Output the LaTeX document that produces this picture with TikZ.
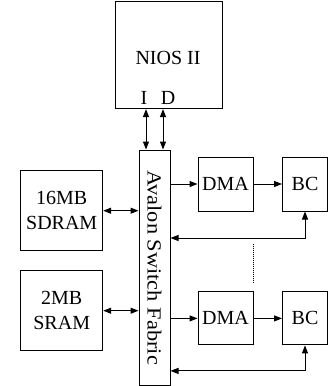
\documentclass[tikz,border=0pt]{standalone}
\usepackage{fontspec}
\setmainfont{Liberation Serif}
\usepackage{tikz}
\usetikzlibrary{arrows.meta,positioning,calc}

\begin{document}
\begin{tikzpicture}[
    x=1pt, y=-1pt,
    blk/.style={draw, line width=1pt, inner sep=0pt, align=center, font=\fontsize{20}{25}\selectfont},
    lbl/.style={inner sep=0pt, font=\fontsize{20}{25}\selectfont},
    arr/.style={-{Triangle[length=8pt,width=6pt]}, line width=1pt},
    biarr/.style={{Triangle[length=8pt,width=6pt]}-{Triangle[length=8pt,width=6pt]}, line width=1pt},
    dotline/.style={line width=0.6pt, dash pattern=on 1pt off 1pt}
]
\useasboundingbox (0,0) rectangle (328,386);

% processor and bus
\node[blk, minimum width=107pt, minimum height=107pt] (nios) at (169.2,55.1) {};
\node[lbl] (niostxt) at (168,58) {NIOS II};
\node[lbl] (iport) at (144,98) {I};
\node[lbl] (dport) at (168,98) {D};
\node[blk, minimum width=31pt, minimum height=235pt] (bus) at (154.5,267.5) {};
\node[lbl, rotate=-90, xscale=1.12] (bustxt) at (bus.center) {Avalon Switch Fabric};

% memories
\node[blk, minimum width=82pt, minimum height=80pt] (sdram) at (61.7,210.7) {16MB\\SDRAM};
\node[blk, minimum width=82pt, minimum height=80pt] (sram) at (61.7,310.7) {2MB\\SRAM};

% channels
\node[blk, minimum width=55pt, minimum height=54pt] (dma1) at (225.5,184) {DMA};
\node[blk, minimum width=45pt, minimum height=54pt] (bc1) at (305,184) {BC};
\node[blk, minimum width=55pt, minimum height=53pt] (dma2) at (225.5,318.4) {DMA};
\node[blk, minimum width=45pt, minimum height=53pt] (bc2) at (305,318.4) {BC};

\draw[biarr] ([xshift=-8.5pt]bus.north |- nios.south) -- ([xshift=-8.5pt]bus.north);
\draw[biarr] ([xshift=8.5pt]bus.north |- nios.south) -- ([xshift=8.5pt]bus.north);
\draw[biarr] (sdram.east) -- (bus.west |- sdram.east);
\draw[biarr] (sram.east) -- (bus.west |- sram.east);

\draw[arr] (bus.east |- dma1.west) -- (dma1.west);
\draw[arr] (dma1.east) -- (bc1.west);
\draw[biarr] (bc1.south) -- ++(0,26.5) coordinate (ret1) -- (bus.east |- ret1);
\draw[arr] (bus.east |- dma2.west) -- (dma2.west);
\draw[arr] (dma2.east) -- (bc2.west);
\draw[biarr] (bc2.south) -- ++(0,25.5) coordinate (ret2) -- (bus.east |- ret2);

\draw[dotline] ([yshift=-32pt]dma1.south east) -- ([yshift=9pt]dma2.north east);
\end{tikzpicture}
\end{document}
